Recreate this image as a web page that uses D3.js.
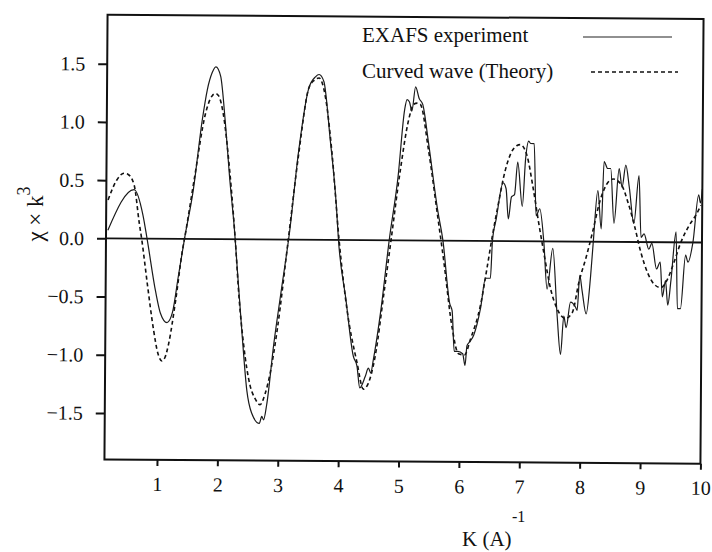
<!DOCTYPE html>
<html>
<head>
<meta charset="utf-8">
<script src="https://cdn.jsdelivr.net/npm/d3@7"></script>
<style>
  body { margin: 0; background: #fff; }
  svg text { font-family: "Liberation Serif", "Times New Roman", serif !important; fill: #111; }
</style>
</head>
<body>
<svg id="chart" width="712" height="552"></svg>
<script>
// EXAFS experiment (solid)
var expK = [0.16,0.59,0.74,0.81,0.96,1.04,1.15,1.24,1.33,1.43,1.57,1.71,1.79,1.87,1.93,2.01,2.09,2.17,2.26,2.31,
  2.40,2.48,2.56,2.69,2.73,2.76,2.81,2.92,3.03,3.17,3.31,3.47,3.58,3.64,3.72,3.83,3.94,3.98,4.11,4.24,
  4.30,4.35,4.44,4.49,4.53,4.57,4.69,4.82,4.96,5.06,5.10,5.14,5.18,5.24,5.30,5.36,5.46,5.62,5.71,5.83,
  5.87,5.91,5.97,6.05,6.09,6.12,6.16,6.23,6.34,6.42,6.50,6.53,6.59,6.70,6.75,6.79,6.84,6.89,6.94,7.02,
  7.07,7.12,7.15,7.21,7.25,7.31,7.38,7.44,7.53,7.61,7.67,7.72,7.76,7.83,7.91,7.94,7.98,8.02,8.09,8.16,
  8.20,8.27,8.33,8.37,8.43,8.48,8.54,8.62,8.67,8.73,8.79,8.87,8.95,8.99,9.04,9.12,9.17,9.25,9.31,9.35,
  9.40,9.44,9.49,9.57,9.60,9.65,9.73,9.77,9.85,9.94,9.97,10.0];
var expV = [0.07,0.42,0.20,0.00,-0.46,-0.64,-0.72,-0.63,-0.33,0.00,0.42,1.02,1.28,1.43,1.48,1.40,1.02,0.53,0.06,-0.27,
  -0.85,-1.30,-1.49,-1.58,-1.52,-1.55,-1.42,-0.90,-0.47,0.07,0.76,1.30,1.40,1.42,1.36,0.87,0.30,0.00,-0.51,-1.00,
  -1.08,-1.27,-1.17,-1.10,-1.14,-1.03,-0.60,0.00,0.55,1.12,1.21,1.19,1.11,1.32,1.22,1.17,0.84,0.26,0.00,-0.54,
  -0.60,-0.95,-0.95,-0.97,-1.07,-0.90,-0.87,-0.81,-0.58,-0.32,-0.32,0.00,0.19,0.50,0.45,0.19,0.38,0.40,0.68,0.30,
  0.71,0.86,0.84,0.84,0.22,0.28,0.00,-0.41,-0.06,-0.64,-0.97,-0.64,-0.74,-0.52,-0.56,-0.59,-0.29,-0.42,-0.62,-0.29,
  0.00,0.44,0.11,0.69,0.63,0.63,0.16,0.63,0.47,0.66,0.47,0.16,0.57,0.04,0.07,-0.06,-0.01,-0.23,-0.17,-0.47,
  -0.33,-0.54,-0.33,0.09,-0.57,-0.57,-0.11,-0.17,0.00,0.41,0.34,0.46];

// Curved wave theory (dashed)
var thK = [0.16,0.30,0.42,0.49,0.59,0.68,0.72,0.82,0.93,1.00,1.07,1.12,1.18,1.29,1.40,1.43,1.59,1.76,1.87,1.93,
  1.98,2.06,2.17,2.27,2.34,2.42,2.53,2.62,2.70,2.78,2.86,2.98,3.14,3.31,3.47,3.56,3.64,3.75,3.86,3.99,
  4.13,4.30,4.41,4.49,4.60,4.74,4.85,4.99,5.13,5.21,5.27,5.32,5.46,5.62,5.73,5.87,5.98,6.08,6.18,6.34,
  6.45,6.53,6.62,6.73,6.84,6.92,6.98,7.09,7.20,7.29,7.39,7.50,7.61,7.75,7.86,7.97,8.08,8.19,8.30,8.41,
  8.52,8.66,8.77,8.88,8.99,9.10,9.21,9.32,9.43,9.54,9.65,9.78,9.89,9.98];
var thV = [0.33,0.50,0.56,0.55,0.46,0.13,0.00,-0.39,-0.79,-0.98,-1.05,-1.02,-0.90,-0.53,-0.09,0.00,0.53,1.07,1.23,1.25,
  1.23,1.07,0.59,0.00,-0.50,-0.90,-1.25,-1.37,-1.42,-1.33,-1.16,-0.76,-0.04,0.73,1.30,1.37,1.39,1.22,0.76,0.00,
  -0.60,-1.05,-1.28,-1.23,-1.00,-0.45,0.00,0.58,1.04,1.17,1.18,1.17,0.78,0.21,-0.19,-0.74,-0.97,-0.98,-0.84,-0.55,
  -0.21,0.05,0.31,0.60,0.77,0.82,0.83,0.74,0.45,0.17,-0.12,-0.41,-0.58,-0.66,-0.61,-0.34,-0.14,0.09,0.34,0.49,
  0.54,0.49,0.34,0.14,-0.09,-0.26,-0.36,-0.39,-0.32,-0.17,0.00,0.14,0.23,0.32];

var xTicks = [1,2,3,4,5,6,7,8,9,10];
var yTicks = [-1.5,-1.0,-0.5,0.0,0.5,1.0,1.5];
var seriesNames = ["EXAFS experiment", "Curved wave (Theory)"];

var serif = "Liberation Serif, Times New Roman, serif";

var svg = d3.select("#chart");
var x = d3.scaleLinear().domain([0.13, 10]).range([106, 702]);
var y = d3.scaleLinear().domain([-1.90, 1.92]).range([461.6, 16.9]);

// the scanned figure sits slightly tilted
var g = svg.append("g").attr("transform", "rotate(0.4,404,239)");

var xAxis = g.append("g")
    .attr("transform", "translate(0," + y.range()[0] + ")")
    .call(d3.axisBottom(x).tickValues(xTicks).tickSize(6).tickPadding(11).tickFormat(d3.format("d")));
var yAxis = g.append("g")
    .attr("transform", "translate(" + x.range()[0] + ",0)")
    .call(d3.axisLeft(y).tickValues(yTicks).tickSize(9).tickPadding(13).tickFormat(d3.format(".1f")));

[xAxis, yAxis].forEach(function(a) {
  a.attr("font-family", serif).attr("font-size", 20);
  a.select(".domain").remove();
  a.selectAll(".tick line").attr("stroke", "#111").attr("stroke-width", 2);
  a.selectAll(".tick text").attr("fill", "#111");
});

// zero line
g.append("line")
    .attr("x1", x.range()[0]).attr("x2", x.range()[1])
    .attr("y1", y(0)).attr("y2", y(0))
    .attr("stroke", "#111").attr("stroke-width", 1.8);

var line = d3.line()
    .x(function(d) { return x(d[0]); })
    .y(function(d) { return y(d[1]); })
    .curve(d3.curveMonotoneX);

g.append("path")
    .datum(d3.zip(thK, thV))
    .attr("d", line)
    .attr("fill", "none")
    .attr("stroke", "#111")
    .attr("stroke-width", 1.6)
    .attr("stroke-dasharray", "4,3");

g.append("path")
    .datum(d3.zip(expK, expV))
    .attr("d", line)
    .attr("fill", "none")
    .attr("stroke", "#1a1a1a")
    .attr("stroke-width", 1.2);

// frame
g.append("rect")
    .attr("x", x.range()[0]).attr("y", y.range()[1])
    .attr("width", x.range()[1] - x.range()[0])
    .attr("height", y.range()[0] - y.range()[1])
    .attr("fill", "none").attr("stroke", "#111").attr("stroke-width", 2);

// legend
var legend = svg.append("g").attr("font-family", serif);
legend.append("text").attr("x", 362).attr("y", 42).attr("font-size", 21).text(seriesNames[0]);
legend.append("text").attr("x", 362).attr("y", 78).attr("font-size", 21).text(seriesNames[1]);
legend.append("line").attr("x1", 583).attr("x2", 672).attr("y1", 37).attr("y2", 37)
    .attr("stroke", "#222").attr("stroke-width", 1.2);
legend.append("line").attr("x1", 591).attr("x2", 678).attr("y1", 72).attr("y2", 72)
    .attr("stroke", "#111").attr("stroke-width", 1.4).attr("stroke-dasharray", "4,3");

// axis titles
var yTitle = svg.append("text")
    .attr("transform", "translate(43,214) rotate(-90)")
    .attr("text-anchor", "middle")
    .attr("font-family", serif)
    .attr("font-size", 23);
yTitle.append("tspan").text("\u03C7 \u00D7 k");
yTitle.append("tspan").attr("dy", -13).attr("font-size", 18).text("3");

svg.append("text").attr("x", 462).attr("y", 546).attr("font-family", serif).attr("font-size", 21).text("K (A)");
svg.append("text").attr("x", 512).attr("y", 522).attr("font-family", serif).attr("font-size", 16).text("-1");
</script>
</body>
</html>
